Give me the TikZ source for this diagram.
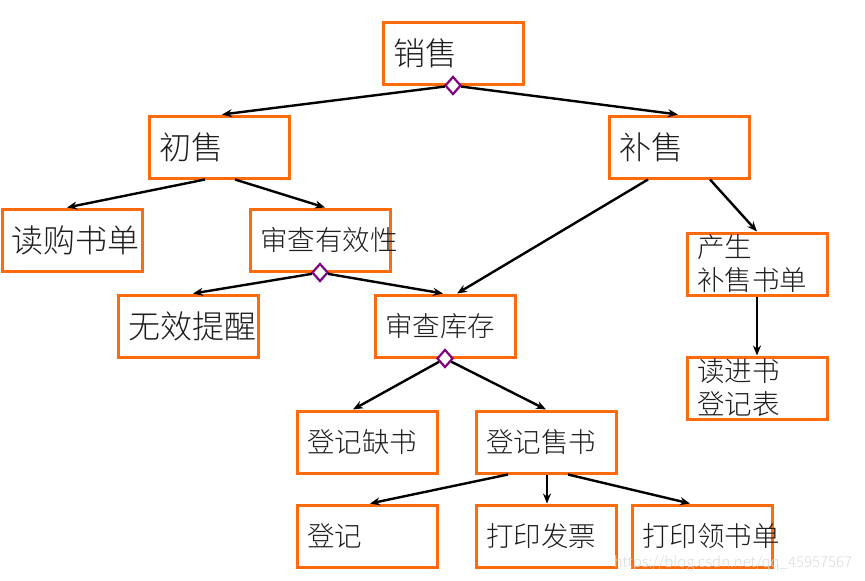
\documentclass[tikz,border=0pt]{standalone}
\usepackage{fontspec}
\setmainfont{Noto Sans CJK SC}[UprightFont=* Light]
\usetikzlibrary{shapes.geometric,arrows.meta}
\definecolor{boxorange}{RGB}{255,106,10}
\definecolor{diapurple}{RGB}{128,0,128}
\definecolor{txt}{RGB}{30,30,30}
\begin{document}
\begin{tikzpicture}[x=1pt,y=-1pt,
  box/.style={draw=boxorange,line width=3pt,rectangle,minimum width=140pt,minimum height=62pt,
    text width=120pt,inner xsep=10pt,inner ysep=0pt,align=left,text=txt},
  big/.style={font=\fontsize{32}{38}\selectfont},
  small/.style={font=\fontsize{27.5}{33}\selectfont},
  dia/.style={draw=diapurple,fill=white,line width=2.2pt,shape=diamond,minimum width=16pt,minimum height=18pt,inner sep=0pt},
  arr/.style={line width=2.4pt,-{Stealth[length=10pt,width=8pt]}},
  wm/.style={text=black!14,font=\fontsize{15}{18}\selectfont}]
\useasboundingbox (0,0) rectangle (865,581);
% boxes
\node[box,big] (xs) at (453,53) {销售};
\node[box,big] (cs) at (219,147) {初售};
\node[box,big] (bs) at (679,147) {补售};
\node[box,big] (dg) at (72,240) {读购书单};
\node[box,small] (sc) at (320,240) {审查有效性};
\node[box,big] (wx) at (188,326) {无效提醒};
\node[box,small] (kc) at (445,326) {审查库存};
\node[box,small] (cd) at (757,264) {产生\\补售书单};
\node[box,small] (jb) at (757,388) {读进书\\登记表};
\node[box,small] (qs) at (367,442) {登记缺书};
\node[box,small] (ss) at (546,442) {登记售书};
\node[box,small] (dj) at (367,536) {登记};
\node[box,small] (fp) at (546,536) {打印发票};
\node[box,small] (lb) at (702,536) {打印领书单};
% diamonds
\node[dia] (d1) at (xs.south) {};
\node[dia] (d2) at (sc.south) {};
\node[dia] (d3) at (kc.south) {};
% connectors
\draw[arr] (d1) -- ([xshift=3]cs.north);
\draw[arr] (d1) -- ([xshift=-1]bs.north);
\draw[arr] ([xshift=-14]cs.south) -- ([xshift=-5]dg.north);
\draw[arr] ([xshift=16]cs.south) -- ([xshift=5]sc.north);
\draw[arr] ([xshift=-31]bs.south) -- ([xshift=12]kc.north);
\draw[arr] ([xshift=31]bs.south) -- (cd.north);
\draw[arr] (d2) -- ([xshift=5]wx.north);
\draw[arr] (d2) -- ([xshift=-2]kc.north);
\draw[arr] (d3) -- ([xshift=-14]qs.north);
\draw[arr] (d3) -- (ss.north);
\draw[arr] ([xshift=-38]ss.south) -- ([xshift=3]dj.north);
\draw[arr] ([xshift=1]ss.south) -- ([xshift=1]fp.north);
\draw[arr] ([xshift=22]ss.south) -- ([xshift=-12]lb.north);
\draw[arr] (cd.south) -- (jb.north);
% watermark
\node[wm] (wmk) at (733,563) {https://blog.csdn.net/qq\_45957567};
\end{tikzpicture}
\end{document}
